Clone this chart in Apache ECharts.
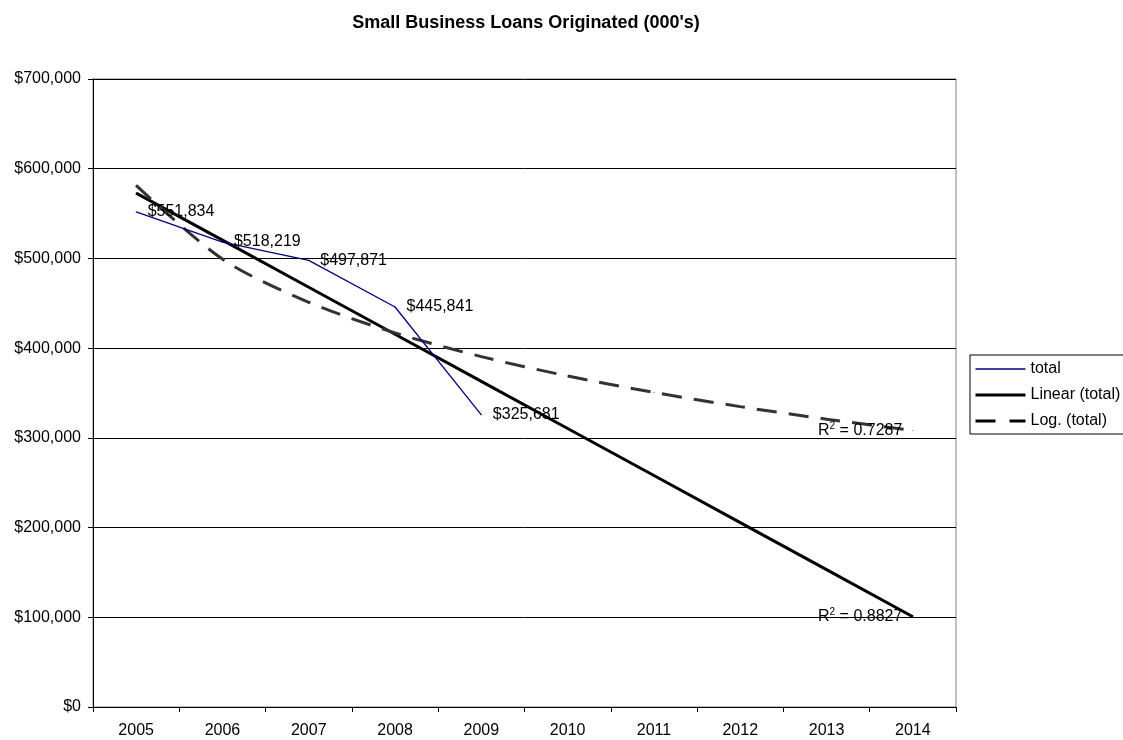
<!DOCTYPE html>
<html>
<head>
<meta charset="utf-8">
<title>Small Business Loans Originated</title>
<script src="https://cdn.jsdelivr.net/npm/echarts@6/dist/echarts.min.js"></script>
<style>
  html, body { margin: 0; padding: 0; background: #fff; }
  #chart { width: 1123px; height: 740px; }
</style>
</head>
<body>
<div id="chart"></div>
<script>
// Years on the category axis
const years = ['2005', '2006', '2007', '2008', '2009', '2010', '2011', '2012', '2013', '2014'];
// Loans originated, thousands of dollars
const totalValues = [551834, 518219, 497871, 445841, 325681];
// Linear trend of the totals, value per year
const linearTrend = [572826, 520358, 467889, 415421, 362952, 310484, 258016, 205547, 153079, 100610];
// Logarithmic trend of the totals, value per year
const logTrend = [581459, 499245, 451152, 417031, 390563, 368937, 350652, 334813, 320843, 308345];
// Coefficients of determination shown at the end of each trend
const linearR2 = '0.8827';
const logR2 = '0.7287';
// Value axis ticks
const yTicks = [0, 100000, 200000, 300000, 400000, 500000, 600000, 700000];

const FONT = 'Arial, "Liberation Sans", sans-serif';
const FS = 16;
const money = v => '$' + Math.round(v).toLocaleString('en-US');

// Trend data with the R² caption attached to the final year
function withEndLabel(values, r2) {
  return values.map((v, i) => {
    if (i !== values.length - 1) return v;
    return {
      value: v,
      label: {
        show: true,
        position: 'left',
        distance: 10,
        formatter: 'R{sup|2} = ' + r2,
        fontFamily: FONT,
        fontSize: FS,
        color: '#000',
        rich: { sup: { fontSize: 10, verticalAlign: 'top', padding: [0, 0, 9, 0], fontFamily: FONT, color: '#000' } }
      }
    };
  });
}

const chart = echarts.init(document.getElementById('chart'), null, { renderer: 'canvas' });
chart.setOption({
  animation: false,
  backgroundColor: '#fff',
  title: {
    text: "Small Business Loans Originated (000's)",
    left: 521,
    textAlign: 'center',
    top: 9,
    textStyle: { fontFamily: FONT, fontSize: 18, fontWeight: 'bold', color: '#000' }
  },
  grid: {
    left: 93, right: 167, top: 79, bottom: 33,
    show: true, borderColor: '#808080', borderWidth: 1, backgroundColor: '#fff'
  },
  legend: {
    orient: 'vertical',
    left: 970,
    top: 355,
    itemWidth: 50,
    itemHeight: 14,
    itemGap: 10,
    padding: [6, 200, 5, 4],
    borderColor: '#000',
    borderWidth: 1,
    backgroundColor: '#fff',
    itemStyle: { opacity: 0 },
    textStyle: { fontFamily: FONT, fontSize: FS, color: '#000' },
    data: [
      { name: 'total', lineStyle: { color: '#000080', width: 1.3 } },
      { name: 'Linear (total)', lineStyle: { color: '#000', width: 3 } },
      { name: 'Log. (total)', lineStyle: { color: '#000', width: 3, type: [20, 14] } }
    ]
  },
  xAxis: {
    type: 'category',
    data: years,
    boundaryGap: true,
    axisLine: { lineStyle: { color: '#000', width: 1 } },
    axisTick: { show: true, length: 5, lineStyle: { color: '#000' } },
    axisLabel: { fontFamily: FONT, fontSize: FS, color: '#000', margin: 16 },
    splitLine: { show: false }
  },
  yAxis: {
    type: 'value',
    min: yTicks[0],
    max: yTicks[yTicks.length - 1],
    interval: yTicks[1] - yTicks[0],
    axisLine: { show: true, lineStyle: { color: '#000', width: 1 } },
    axisTick: { show: true, length: 5, lineStyle: { color: '#000' } },
    axisLabel: { fontFamily: FONT, fontSize: FS, color: '#000', margin: 12, formatter: money },
    splitLine: { show: true, lineStyle: { color: '#000', width: 1 } }
  },
  series: [
    {
      name: 'total',
      type: 'line',
      data: totalValues,
      symbol: 'circle',
      symbolSize: 1,
      showSymbol: true,
      z: 3,
      lineStyle: { color: '#000080', width: 1.3 },
      itemStyle: { color: '#000080' },
      label: {
        show: true,
        position: 'right',
        distance: 11,
        fontFamily: FONT,
        fontSize: FS,
        color: '#000',
        formatter: p => money(p.value)
      }
    },
    {
      name: 'Linear (total)',
      type: 'line',
      data: withEndLabel(linearTrend, linearR2),
      symbol: 'circle',
      symbolSize: 1,
      showSymbol: true,
      z: 2,
      lineStyle: { color: '#000', width: 3 },
      itemStyle: { color: '#000' }
    },
    {
      name: 'Log. (total)',
      type: 'line',
      data: withEndLabel(logTrend, logR2),
      symbol: 'circle',
      symbolSize: 1,
      showSymbol: true,
      smooth: 0.3,
      z: 2,
      lineStyle: { color: '#333', width: 3, type: [20, 12] },
      itemStyle: { color: '#333' }
    }
  ]
});
</script>
</body>
</html>
